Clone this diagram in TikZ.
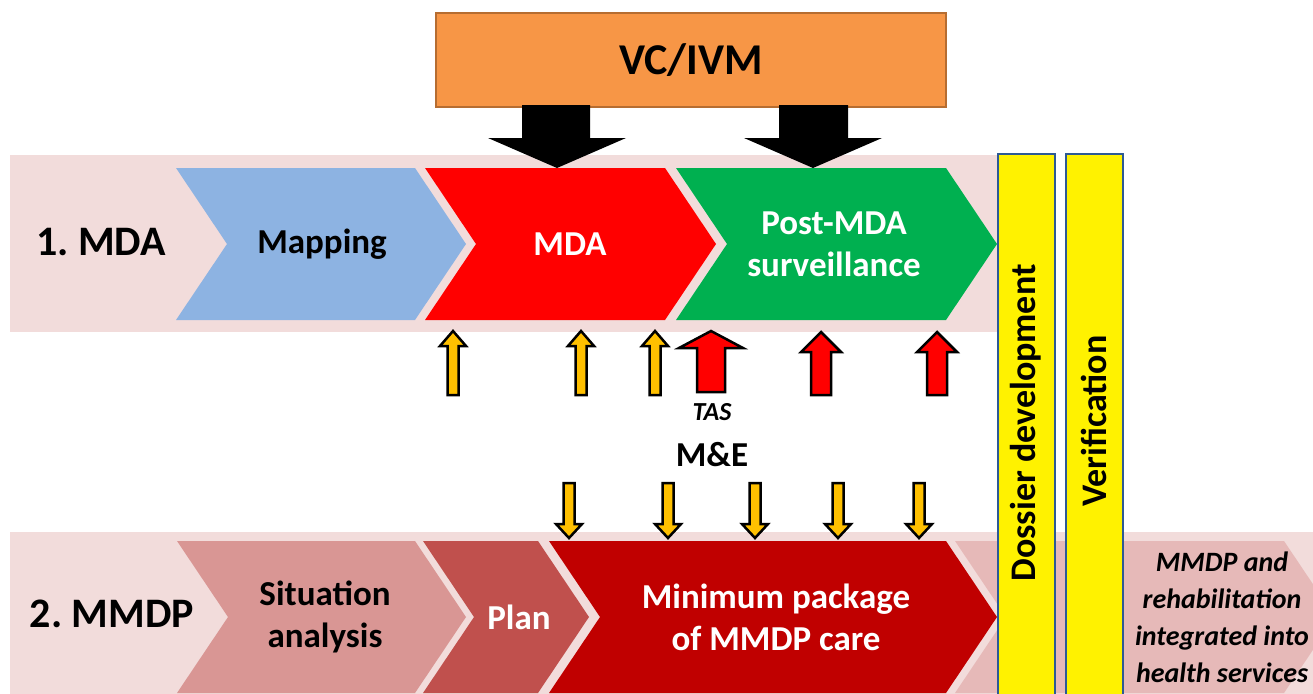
\documentclass[tikz,border=0pt]{standalone}
\usepackage{fontspec}
\setmainfont{Carlito}
\definecolor{bandpink}{HTML}{F2DCDB}
\definecolor{mapblue}{HTML}{8DB3E2}
\definecolor{mdared}{HTML}{FF0000}
\definecolor{postgreen}{HTML}{00B050}
\definecolor{situ}{HTML}{D99694}
\definecolor{planc}{HTML}{C0504D}
\definecolor{minred}{HTML}{C00000}
\definecolor{palech}{HTML}{E6B9B8}
\definecolor{barblue}{HTML}{2E5A94}
\definecolor{vcorange}{HTML}{F79646}
\definecolor{vcborder}{HTML}{B66D31}
\definecolor{arryellow}{HTML}{FFC000}
\begin{document}
\begin{tikzpicture}[x=1pt,y=-1pt,
  lbl/.style={font=\bfseries\fontsize{42}{50}\selectfont},
  ctext/.style={font=\bfseries\fontsize{35}{42}\selectfont, align=center},
  itext/.style={font=\bfseries\itshape\fontsize{28}{37}\selectfont, align=center},
  blockarr/.style={draw=black, line width=2.5pt, line join=miter},
  bar/.style={fill=yellow, draw=barblue, line width=2.5pt}]
\useasboundingbox (0,0) rectangle (1313,693);
\clip (0,0) rectangle (1313,693);
% bands
\fill[bandpink] (10,155) rectangle (1000,332);
\fill[bandpink] (10,532) rectangle (1330,720);
% top chevrons (T=168,B=320,M=244,d=51)
\fill[mapblue] (176,168) -- (415,168) -- (466,244) -- (415,320) -- (176,320) -- (227,244) -- cycle;
\fill[mdared] (425,168) -- (665,168) -- (716,244) -- (665,320) -- (425,320) -- (476,244) -- cycle;
\fill[postgreen] (676,168) -- (946,168) -- (997,244) -- (946,320) -- (676,320) -- (727,244) -- cycle;
% bottom chevrons (T=541,B=693,M=617)
\fill[situ] (177,541) -- (415,541) -- (466,617) -- (415,693) -- (177,693) -- (228,617) -- cycle;
\fill[planc] (423,541) -- (538,541) -- (589,617) -- (538,693) -- (423,693) -- (474,617) -- cycle;
\fill[minred] (549,541) -- (946,541) -- (997,617) -- (946,693) -- (549,693) -- (600,617) -- cycle;
\fill[palech] (955,541) -- (1284,541) -- (1335,617) -- (1284,693) -- (955,693) -- (1006,617) -- cycle;
% VC/IVM box and arrows
\node[draw=vcborder, fill=vcorange, line width=2pt, minimum width=510pt, minimum height=94pt,
  font=\bfseries\fontsize{44}{50}\selectfont, inner sep=0pt] (vc) at (691,60) {VC/IVM};
\fill[black] (522,105) -- (590,105) -- (590,138) -- (626,138) -- (557,168) -- (488,138) -- (522,138) -- cycle;
\fill[black] (779,105) -- (848,105) -- (848,138) -- (882,138) -- (813,168) -- (744,138) -- (779,138) -- cycle;
% yellow up arrows
\foreach \cx in {453,581,655}{
  \filldraw[blockarr, fill=arryellow] (\cx-5.5,395) -- (\cx-5.5,346) -- (\cx-13,346) -- (\cx,331) -- (\cx+13,346) -- (\cx+5.5,346) -- (\cx+5.5,395) -- cycle;}
% red up arrows
\filldraw[blockarr, fill=mdared] (697,392) -- (697,348) -- (679,348) -- (711,331) -- (743,348) -- (725,348) -- (725,392) -- cycle;
\foreach \cx in {821,937}{
  \filldraw[blockarr, fill=mdared] (\cx-10,395) -- (\cx-10,352) -- (\cx-20,352) -- (\cx,332) -- (\cx+20,352) -- (\cx+10,352) -- (\cx+10,395) -- cycle;}
% yellow down arrows
\foreach \cx in {569,668,755,838,919}{
  \filldraw[blockarr, fill=arryellow] (\cx-5.5,483) -- (\cx+5.5,483) -- (\cx+5.5,524) -- (\cx+13,524) -- (\cx,538) -- (\cx-13,524) -- (\cx-5.5,524) -- cycle;}
% yellow bars
\draw[bar] (998,154) rectangle (1055,720);
\draw[bar] (1066,154) rectangle (1123,720);
% texts
\node[lbl] (mdalbl) at (101,242) {1.\ MDA};
\node[lbl] (mmdplbl) at (112,614) {2.\ MMDP};
\node[ctext] (mapping) at (322,244) {Mapping};
\node[ctext, text=white] (mda) at (570,244) {MDA};
\node[ctext, text=white] (post) at (834,244) {Post-MDA\\surveillance};
\node[ctext] (situation) at (325,617) {Situation\\analysis};
\node[ctext, text=white] (plan) at (519,617) {Plan};
\node[ctext, text=white] (minpack) at (776,617) {Minimum package\\of MMDP care};
\node[itext] (integ) at (1222,617) {MMDP and\\rehabilitation\\integrated into\\health services};
\node[font=\bfseries\itshape\fontsize{26}{30}\selectfont] (tas) at (712,412) {TAS};
\node[font=\bfseries\fontsize{35}{40}\selectfont] (me) at (712,455) {M\&E};
\node[font=\bfseries\fontsize{36}{42}\selectfont, rotate=90] (dossier) at (1026,423) {Dossier development};
\node[font=\bfseries\fontsize{36}{42}\selectfont, rotate=90] (verif) at (1094,421) {Verification};
\end{tikzpicture}
\end{document}
